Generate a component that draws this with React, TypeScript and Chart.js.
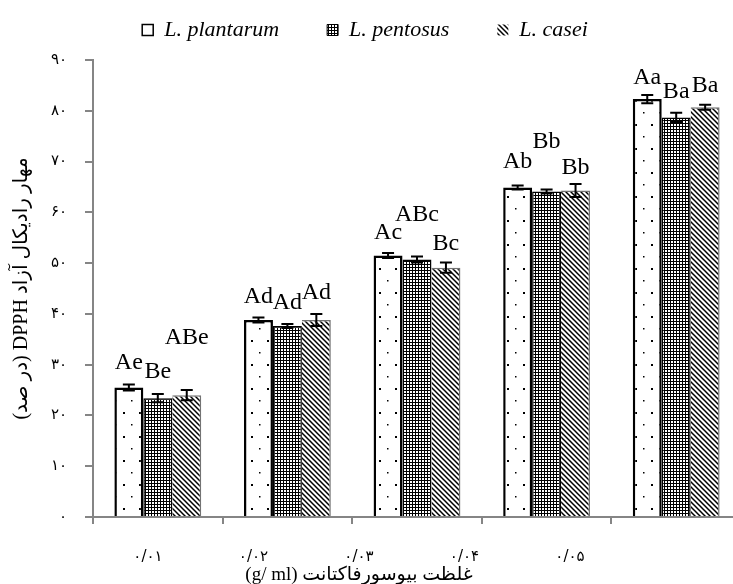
import React, { useEffect, useRef } from 'react';
import { Chart, registerables } from 'chart.js';
Chart.register(...registerables);

// ---- data ----
const categories = ['۰/۰۱', '۰/۰۲', '۰/۰۳', '۰/۰۴', '۰/۰۵'];
const seriesNames = ['L. plantarum', 'L. pentosus', 'L. casei'];
const plantarum = [25.5, 38.8, 51.5, 64.9, 82.3];
const pentosus = [23.4, 37.6, 50.7, 64.1, 78.7];
const casei = [24.0, 38.8, 49.1, 64.3, 80.7];
const plantarumErr = [0.6, 0.5, 0.5, 0.4, 0.8];
const pentosusErr = [0.8, 0.4, 0.6, 0.4, 0.9];
const caseiErr = [1.0, 1.2, 1.0, 1.3, 0.5];
const plantarumLetters = ['Ae', 'Ad', 'Ac', 'Ab', 'Aa'];
const pentosusLetters = ['Be', 'Ad', 'ABc', 'Bb', 'Ba'];
const caseiLetters = ['ABe', 'Ad', 'Bc', 'Bb', 'Ba'];
const yTickLabels = ['۰', '۱۰', '۲۰', '۳۰', '۴۰', '۵۰', '۶۰', '۷۰', '۸۰', '۹۰'];
const yTitle = 'مهار رادیکال آزاد DPPH (در صد)';
const xTitle = 'غلظت بیوسورفاکتانت (g/ ml)';

// ---- label layout (extra lift in px for letters that were moved up) ----
const letterLift = [
  [1, 0, 0, 3, -3],
  [2, 1, 22, 27, 1],
  [32, 1, -1, -4, -1],
];

const SERIF = '"Liberation Serif", "DejaVu Sans", serif';
const AXIS_GRAY = '#858585';

function makePattern(kind: string): CanvasPattern | string {
  const c = document.createElement('canvas');
  const g = c.getContext('2d');
  if (!g) return '#fff';
  if (kind === 'dots') {
    c.width = 16; c.height = 24;
    g.fillStyle = '#fff'; g.fillRect(0, 0, 16, 24);
    g.fillStyle = '#000';
    g.fillRect(6, 4, 2, 2);
    g.fillRect(14, 16, 1.5, 1.5);
  } else if (kind === 'grid') {
    c.width = 3; c.height = 3;
    g.fillStyle = '#fff'; g.fillRect(0, 0, 3, 3);
    g.fillStyle = '#000';
    g.fillRect(0, 0, 3, 1);
    g.fillRect(0, 0, 1, 3);
  } else {
    c.width = 5; c.height = 5;
    g.fillStyle = '#fff'; g.fillRect(0, 0, 5, 5);
    g.strokeStyle = '#000'; g.lineWidth = 1.5;
    g.beginPath();
    g.moveTo(-1, -1); g.lineTo(6, 6);
    g.moveTo(-1, 4); g.lineTo(1, 6);
    g.moveTo(4, -1); g.lineTo(6, 1);
    g.stroke();
  }
  return g.createPattern(c, 'repeat') || '#fff';
}

export default function App() {
  const ref = useRef<HTMLCanvasElement | null>(null);

  useEffect(() => {
    document.documentElement.style.overflow = 'hidden';
    document.body.style.overflow = 'hidden';
    const canvas = ref.current;
    if (!canvas) return;

    const errs = [plantarumErr, pentosusErr, caseiErr];
    const letters = [plantarumLetters, pentosusLetters, caseiLetters];

    const annot = {
      id: 'annot',
      afterDatasetsDraw(chart: any) {
        const ctx = chart.ctx;
        const y = chart.scales.y;
        ctx.save();
        chart.data.datasets.forEach((ds: any, i: number) => {
          const meta = chart.getDatasetMeta(i);
          meta.data.forEach((bar: any, j: number) => {
            const v = ds.data[j];
            const e = errs[i][j];
            const yt = y.getPixelForValue(v + e);
            const yb = y.getPixelForValue(v - e);
            ctx.strokeStyle = '#000';
            ctx.lineWidth = 2;
            ctx.beginPath();
            ctx.moveTo(bar.x, yt); ctx.lineTo(bar.x, yb);
            ctx.moveTo(bar.x - 6, yt); ctx.lineTo(bar.x + 6, yt);
            ctx.moveTo(bar.x - 6, yb); ctx.lineTo(bar.x + 6, yb);
            ctx.stroke();
            ctx.font = '24px "Liberation Serif", serif';
            ctx.fillStyle = '#000';
            ctx.textAlign = 'center';
            ctx.textBaseline = 'alphabetic';
            ctx.direction = 'ltr';
            ctx.fillText(letters[i][j], bar.x, yt - 14 - letterLift[i][j]);
          });
        });
        const xl = chart.scales.xl;
        ctx.direction = 'rtl';
        ctx.font = '19px ' + SERIF;
        ctx.textAlign = 'center';
        ctx.textBaseline = 'middle';
        ctx.fillStyle = '#000';
        ctx.fillText(xTitle, xl.getPixelForValue(3), xl.bottom - 9);
        ctx.restore();
      },
    };

    const chart = new Chart(canvas, {
      type: 'bar',
      data: {
        labels: categories,
        datasets: [
          {
            label: seriesNames[0], data: plantarum, xAxisID: 'x', yAxisID: 'y',
            backgroundColor: makePattern('dots') as any, borderColor: '#000', borderWidth: 2.5,
          },
          {
            label: seriesNames[1], data: pentosus, xAxisID: 'x', yAxisID: 'y',
            backgroundColor: makePattern('grid') as any, borderColor: '#000', borderWidth: 1.5,
          },
          {
            label: seriesNames[2], data: casei, xAxisID: 'x', yAxisID: 'y',
            backgroundColor: makePattern('diag') as any, borderColor: 'rgba(0,0,0,0.55)',
            borderWidth: { top: 1.5, right: 1.5, left: 0, bottom: 0 } as any,
          },
        ],
      },
      options: {
        responsive: false,
        animation: false,
        devicePixelRatio: 1,
        layout: { padding: { top: -29, left: 0, right: 8, bottom: 0 } },
        datasets: { bar: { categoryPercentage: 0.67, barPercentage: 1.0 } },
        plugins: {
          legend: {
            position: 'top',
            labels: {
              font: { family: '"Liberation Serif", serif', size: 22, style: 'italic' },
              color: '#000',
              boxWidth: 11,
              boxHeight: 11,
              padding: 48,
              generateLabels: (chart: any) =>
                chart.data.datasets.map((ds: any, i: number) => ({
                  text: ds.label,
                  fillStyle: ds.backgroundColor,
                  strokeStyle: i === 2 ? 'rgba(0,0,0,0)' : '#000',
                  lineWidth: i === 0 ? 1.5 : 1,
                  hidden: false,
                  datasetIndex: i,
                  fontColor: '#000',
                })),
            },
          },
          tooltip: { enabled: false },
        },
        scales: {
          xt: {
            type: 'category', position: 'top',
            grid: { display: false, drawTicks: false }, border: { display: false },
            ticks: { display: false },
            afterFit: (s: any) => { s.height = 9; },
          },
          x: {
            type: 'category', position: 'bottom',
            grid: { display: true, drawOnChartArea: false, drawTicks: true, tickLength: 7, color: AXIS_GRAY, lineWidth: 2 },
            border: { display: true, color: AXIS_GRAY, width: 2 },
            ticks: { display: false },
            afterFit: (s: any) => { s.height = 7; },
          },
          xl: {
            type: 'linear', position: 'bottom', min: 0.479, max: 6.621, offset: false,
            grid: { display: false, drawTicks: false, offset: false }, border: { display: false },
            afterBuildTicks: (s: any) => { s.ticks = categories.map((_, i) => ({ value: i + 1 })); },
            ticks: {
              autoSkip: false, maxRotation: 0, padding: 24, color: '#000',
              font: { family: '"DejaVu Sans", sans-serif', size: 15 },
              callback: (_v: any, i: number) => categories[i] ?? '',
            },
            afterFit: (s: any) => { s.height = 60; },
          },
          y: {
            type: 'linear', position: 'left', min: 0, max: 90,
            grid: { drawOnChartArea: false, drawTicks: true, tickLength: 8, color: AXIS_GRAY, lineWidth: 2 },
            border: { display: true, color: AXIS_GRAY, width: 2 },
            ticks: {
              stepSize: 10, padding: 18, color: '#000',
              font: { family: '"DejaVu Sans", sans-serif', size: 15 },
              callback: (_v: any, i: number) => yTickLabels[i] ?? '',
            },
            title: {
              display: true, text: yTitle, color: '#000',
              font: { family: SERIF, size: 20 },
              padding: { top: 21, bottom: 0 },
            },
            afterFit: (s: any) => { s.width = 104; },
          },
        },
      },
      plugins: [annot],
    } as any);

    return () => chart.destroy();
  }, []);

  return (
    <div style={{ position: 'fixed', left: -11, top: 0, width: 760, height: 584 }}>
      <canvas ref={ref} width={760} height={584} dir="rtl" style={{ display: 'block', width: 760, height: 584 }} />
    </div>
  );
}
